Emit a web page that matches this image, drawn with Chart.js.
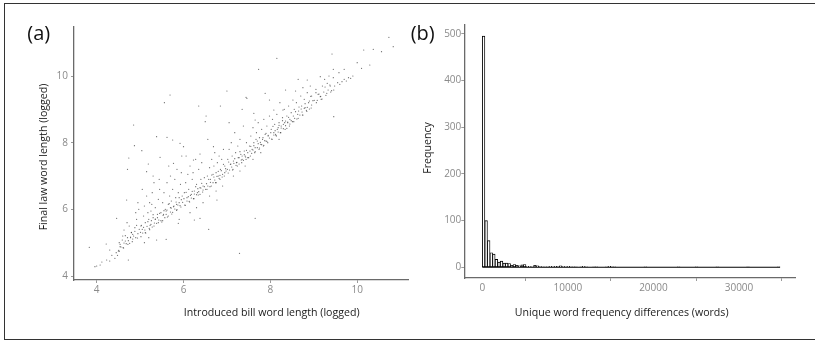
<!DOCTYPE html>
<html><head><meta charset="utf-8">
<script src="https://cdn.jsdelivr.net/npm/chart.js@4.4.1/dist/chart.umd.min.js"></script>
<style>
html,body{margin:0;padding:0;background:#fff;width:815px;height:341px;overflow:hidden;position:relative;font-family:"Open Sans",sans-serif;}
#frame{position:absolute;left:4px;top:3px;width:830px;height:337px;box-sizing:border-box;border:1.5px solid #333;}
canvas{position:absolute;top:0;}
.t{position:absolute;white-space:nowrap;color:#1a1a1a;font-size:10.6px;line-height:11px;transform:translate(-50%,-50%);}
.rot{position:absolute;white-space:nowrap;color:#1a1a1a;font-size:10.6px;line-height:12px;height:12px;width:220px;text-align:center;transform:rotate(-90deg);transform-origin:110px 6px;}
.panel{font-size:20px;line-height:20px;color:#111;}
</style></head><body>
<div id="frame"></div>
<canvas id="ca" width="410" height="341" style="left:0"></canvas>
<canvas id="cb" width="405" height="341" style="left:410px"></canvas>
<div class="t panel" style="left:38.8px;top:32.5px">(a)</div>
<div class="t panel" style="left:422.7px;top:33px">(b)</div>
<div class="rot" style="left:-67px;top:151px">Final law word length (logged)</div>
<div class="t" style="left:271.7px;top:312px">Introduced bill word length (logged)</div>
<div class="rot" style="left:317px;top:142px">Frequency</div>
<div class="t" style="left:621.7px;top:312px">Unique word frequency differences (words)</div>
<script>
// ---- Panel (a): scatter of logged word lengths [introduced bill, final law]
const scatterPoints = [
// lower-left tail
[3.83,4.86],[3.96,4.28],[4.0,4.3],[4.08,4.33],[4.12,4.42],[4.23,4.48],[4.22,4.96],[4.3,4.45],[4.35,4.62],[4.42,4.53],[4.45,4.7],[4.46,5.73],[4.48,4.62],[4.5,4.75],[4.54,4.88],[4.52,5.0],[4.3,4.78],
// main band
[4.51,4.77],[4.54,4.95],[4.56,4.87],[4.59,5.08],[4.61,4.85],[4.63,4.99],[4.66,5.21],[4.68,4.97],[4.71,5.15],[4.73,5.06],[4.76,4.98],[4.78,5.17],[4.8,5.31],[4.83,5.11],[4.85,5.2],[4.88,5.34],[4.9,5.15],[4.92,5.52],[4.95,5.27],[4.98,5.4],
[5.01,5.31],[5.03,5.52],[5.06,5.29],[5.08,5.46],[5.11,5.38],[5.13,5.29],[5.16,5.49],[5.18,5.63],[5.21,5.43],[5.23,5.52],[5.26,5.66],[5.28,5.47],[5.3,5.84],[5.33,5.59],[5.35,5.71],[5.38,5.58],[5.4,5.75],[5.43,5.68],[5.45,5.88],[5.48,5.66],
[5.5,5.62],[5.53,5.82],[5.55,5.96],[5.57,5.75],[5.6,5.85],[5.62,5.98],[5.65,5.8],[5.67,6.17],[5.7,5.92],[5.72,6.04],[5.75,5.91],[5.77,6.08],[5.8,6.01],[5.83,6.22],[5.85,5.99],[5.87,6.13],[5.9,6.35],[5.92,6.11],[5.95,6.29],[5.98,6.21],
[6.01,6.32],[6.03,6.13],[6.06,6.51],[6.08,6.25],[6.11,6.38],[6.13,6.24],[6.16,6.42],[6.18,6.34],[6.2,6.54],[6.23,6.32],[6.25,6.46],[6.28,6.68],[6.3,6.44],[6.33,6.62],[6.35,6.53],[6.38,6.45],[6.4,6.64],[6.42,6.78],[6.45,6.58],[6.48,6.68],
[6.51,6.6],[6.53,6.77],[6.56,6.7],[6.58,6.9],[6.61,6.68],[6.62,6.81],[6.65,7.03],[6.68,6.8],[6.7,6.97],[6.72,6.88],[6.75,6.8],[6.77,6.99],[6.8,7.14],[6.82,6.93],[6.84,7.02],[6.87,7.16],[6.89,6.97],[6.92,7.35],[6.95,7.1],[6.97,7.22],
[7.01,7.2],[7.04,7.42],[7.06,7.18],[7.09,7.36],[7.11,7.27],[7.13,7.18],[7.16,7.38],[7.18,7.52],[7.21,7.32],[7.23,7.41],[7.26,7.55],[7.28,7.36],[7.3,7.73],[7.33,7.48],[7.35,7.6],[7.38,7.47],[7.4,7.64],[7.43,7.57],[7.45,7.77],[7.48,7.55],
[7.5,7.55],[7.53,7.75],[7.55,7.89],[7.57,7.68],[7.6,7.78],[7.62,7.91],[7.65,7.73],[7.67,8.1],[7.7,7.85],[7.72,7.97],[7.75,7.84],[7.77,8.01],[7.8,7.94],[7.83,8.15],[7.85,7.92],[7.87,8.06],[7.9,8.28],[7.92,8.04],[7.95,8.22],[7.98,8.14],
[8.01,8.3],[8.03,8.11],[8.06,8.49],[8.08,8.23],[8.11,8.36],[8.13,8.22],[8.16,8.4],[8.18,8.32],[8.2,8.52],[8.23,8.3],[8.25,8.44],[8.28,8.66],[8.3,8.42],[8.33,8.6],[8.35,8.51],[8.38,8.43],[8.4,8.62],[8.42,8.76],[8.45,8.56],[8.48,8.66],
[8.51,8.63],[8.53,8.8],[8.56,8.73],[8.58,8.93],[8.61,8.71],[8.63,8.85],[8.66,9.07],[8.68,8.83],[8.71,9.01],[8.73,8.92],[8.75,8.83],[8.78,9.03],[8.8,9.17],[8.83,8.97],[8.85,9.06],[8.88,9.2],[8.9,9.01],[8.93,9.39],[8.95,9.13],[8.98,9.26],
[9.01,9.27],[9.05,9.5],[9.08,9.27],[9.12,9.46],[9.16,9.39],[9.19,9.31],[9.23,9.52],[9.26,9.67],[9.3,9.48],[9.33,9.58],[9.37,9.73],[9.41,9.56],[9.45,9.95],
// lower edge of band
[4.52,4.74],[4.62,4.84],[4.72,4.95],[4.82,5.03],[4.94,5.14],[5.02,5.18],[5.12,5.3],[5.22,5.39],[5.32,5.5],[5.42,5.6],
[5.52,5.66],[5.63,5.77],[5.73,5.86],[5.84,5.97],[5.94,6.07],[6.04,6.12],[6.14,6.22],[6.24,6.32],[6.34,6.43],[6.44,6.52],
[6.54,6.6],[6.64,6.7],[6.74,6.8],[6.84,6.9],[6.94,7.0],[7.03,7.09],[7.14,7.2],[7.24,7.3],[7.34,7.4],[7.44,7.5],
[7.54,7.6],[7.64,7.7],[7.74,7.8],[7.84,7.9],[7.94,8.0],[8.04,8.1],[8.14,8.2],[8.24,8.3],[8.34,8.4],[8.44,8.5],
[8.54,8.63],[8.64,8.73],[8.74,8.83],[8.84,8.94],[8.94,9.04],[9.06,9.2],[9.17,9.3],[9.28,9.42],[9.39,9.52],
// cloud above / below the band
[4.6,5.2],[4.63,5.38],[4.69,6.28],[4.71,7.2],[4.74,7.54],[4.73,4.48],[4.75,5.5],[4.8,5.3],[4.85,8.53],[4.87,7.91],[4.7,5.6],[4.9,5.9],[4.95,6.2],[4.78,5.15],[4.88,5.45],[4.92,5.7],[4.97,6.0],[4.66,5.05],[4.83,5.25],
[5.04,7.76],[5.15,7.13],[5.19,7.36],[5.38,8.18],[5.46,7.56],[5.38,5.08],[5.02,5.5],[5.05,6.6],[5.08,5.8],[5.1,6.1],[5.12,5.6],[5.15,6.4],[5.18,5.9],[5.2,5.7],[5.22,6.2],[5.25,5.95],[5.28,6.5],[5.3,5.75],[5.32,6.8],[5.35,6.05],[5.4,5.85],[5.42,6.3],[5.45,6.6],[5.48,5.9],[5.05,5.4],[5.25,5.55],[5.35,5.7],[5.44,6.9],[5.3,7.0],[5.1,5.0],[5.2,5.15],[5.27,6.15],
[5.56,9.2],[5.69,9.43],[5.6,5.1],[5.62,8.16],[5.75,8.08],[5.77,7.38],[5.92,7.98],[5.96,7.6],[5.88,5.58],[5.52,6.2],[5.55,6.5],[5.58,6.0],[5.62,6.8],[5.65,6.15],[5.68,6.4],[5.7,7.0],[5.72,6.25],[5.75,6.6],[5.78,6.1],[5.8,6.9],[5.82,6.35],[5.85,7.2],[5.88,6.5],[5.9,6.2],[5.93,6.75],[5.97,6.4],[5.6,5.95],[5.7,6.05],[5.84,6.15],[5.95,7.1],[5.66,7.3],[5.54,5.85],[5.9,5.7],
[6.0,7.88],[6.23,7.48],[6.38,7.66],[6.35,9.1],[6.25,5.68],[6.38,5.73],[6.02,6.5],[6.05,6.8],[6.08,6.35],[6.1,7.05],[6.12,6.6],[6.15,7.3],[6.18,6.45],[6.2,6.9],[6.22,7.1],[6.25,6.55],[6.28,7.5],[6.3,6.75],[6.32,6.5],[6.35,7.2],[6.38,6.65],[6.4,6.9],[6.42,7.4],[6.45,6.7],[6.48,6.95],[6.15,5.9],[6.3,6.05],[6.45,6.2],[6.06,7.6],
[6.52,8.8],[6.5,8.63],[6.58,5.4],[6.69,7.88],[6.77,6.28],[6.85,9.1],[6.55,7.0],[6.6,7.25],[6.62,6.9],[6.65,7.5],[6.68,7.05],[6.7,7.3],[6.72,7.7],[6.75,7.1],[6.78,7.4],[6.8,7.0],[6.82,7.6],[6.85,7.2],[6.88,7.5],[6.9,7.05],[6.92,7.8],[6.95,7.3],[6.98,7.15],[6.6,6.4],[6.75,6.55],[6.9,6.7],[6.56,8.1],
[7.0,9.55],[7.35,9.0],[7.46,9.33],[7.44,9.36],[7.29,4.68],[7.02,7.5],[7.05,7.8],[7.08,7.35],[7.1,8.0],[7.12,7.6],[7.15,7.45],[7.18,8.3],[7.2,7.7],[7.22,7.4],[7.25,7.9],[7.28,7.55],[7.3,8.1],[7.32,7.65],[7.35,7.5],[7.38,8.5],[7.4,7.75],[7.42,7.6],[7.45,8.0],[7.48,7.7],[7.15,7.0],[7.3,7.15],[7.42,7.3],[7.05,8.6],
[7.62,8.88],[7.65,8.68],[7.65,5.73],[7.73,10.2],[7.88,9.48],[7.98,9.28],[7.52,7.9],[7.55,8.2],[7.58,7.8],[7.6,8.45],[7.62,8.0],[7.65,7.85],[7.68,8.3],[7.7,8.05],[7.72,8.6],[7.75,8.15],[7.78,7.95],[7.8,8.4],[7.82,8.1],[7.85,8.7],[7.88,8.25],[7.9,8.05],[7.92,8.5],[7.95,8.2],[7.98,8.8],[7.6,7.5],[7.78,7.7],
[8.15,10.53],[8.08,8.98],[8.29,8.98],[8.35,9.58],[8.02,8.4],[8.05,8.7],[8.08,8.3],[8.1,8.55],[8.12,8.25],[8.15,8.85],[8.18,8.45],[8.2,8.6],[8.22,9.2],[8.25,8.5],[8.28,8.75],[8.3,8.55],[8.32,9.0],[8.35,8.65],[8.38,8.8],[8.4,8.6],[8.42,9.1],[8.45,8.7],[8.48,8.9],[8.2,8.1],
[8.52,9.28],[8.64,9.9],[8.85,9.88],[8.55,9.0],[8.6,9.2],[8.65,8.95],[8.7,9.4],[8.72,9.1],[8.78,9.3],[8.8,9.05],[8.85,9.5],[8.9,9.25],[8.95,9.4],[8.58,9.55],[8.75,9.65],[8.92,9.7],
[9.15,9.98],[9.15,9.38],[9.31,9.78],[9.38,9.7],[9.42,10.66],[9.45,10.2],[9.46,9.58],[9.46,8.78],[9.48,9.7],[9.05,9.6],[9.2,9.7],[9.25,9.9],[9.35,10.0],[9.1,9.45],
// upper-right tail
[9.55,9.8],[9.6,9.75],[9.65,9.83],[9.7,9.9],[9.75,9.85],[9.8,9.95],[9.85,9.93],[9.9,10.0],[10.0,10.4],[10.1,10.23],[10.15,10.78],[10.29,10.33],[10.37,10.8],[10.56,10.73],[10.73,11.16],[10.83,10.88],[9.58,10.1],[9.7,10.2]
];
const xTicksA = [4, 6, 8, 10];
const yTicksA = [4, 6, 8, 10];

// ---- Panel (b): histogram of unique word frequency differences (bin width 300 words)
const binWidth = 300;
const histBinStart = [0,300,600,900,1200,1500,1800,2100,2400,2700,3000,3300,3600,3900,4200,4500,4800,5100,5400,5700,6000,6300,6600,6900,7200,7500,7800,8100,8400,8700,9000,9300,9600,9900,10200,10500,10800,11400,11700,12000,12900,13200,14400,14700,15000,15300,18900,22800,24900,27300,30900,34500];
const histCount    = [495,100,57,31,28,17,11,13,9,9,8,4,6,4,3,5,6,2,2,1,4,3,2,1,1,1,2,1,2,2,3,2,1,2,1,1,1,1,2,1,1,1,1,2,1,1,1,1,1,1,1,1];
const baselineRange = [0, 34800];
const xTicksB = [0, 10000, 20000, 30000];
const yTicksB = [0, 100, 200, 300, 400, 500];

const tickFont = {family: 'Open Sans', size: 10};
const tickColor = '#8a8a8a';
function axisOpts(extra){
  return Object.assign({
    type: 'linear',
    grid: {display: true, drawOnChartArea: false, drawTicks: true, tickLength: 3, color: '#9a9a9a', tickColor: '#9a9a9a'},
    border: {display: true, color: '#6a6a6a', width: 1.3},
    ticks: {color: tickColor, font: tickFont, maxRotation: 0, autoSkip: false, callback: v => String(v)}
  }, extra);
}
const common = {
  responsive: false, animation: false, events: [],
  plugins: {legend: {display: false}, tooltip: {enabled: false}, title: {display: false}}
};

new Chart(document.getElementById('ca'), {
  type: 'scatter',
  data: {datasets: [{
    data: scatterPoints.map(p => ({x: p[0], y: p[1]})),
    pointRadius: 0.62, pointHoverRadius: 0, borderWidth: 0,
    backgroundColor: 'rgba(55,55,55,0.75)'
  }]},
  options: Object.assign({}, common, {
    layout: {padding: {left: 40, top: 27, right: 2, bottom: 20}},
    scales: {
      x: (() => { const o = axisOpts({min: 3.478, max: 11.17}); o.ticks.padding = 1;
        o.afterBuildTicks = s => { s.ticks = xTicksA.map(v => ({value: v})); };
        o.afterFit = s => { s.height = 41; }; return o; })(),
      y: (() => { const o = axisOpts({min: 3.88, max: 11.47}); o.ticks.padding = 3;
        o.afterBuildTicks = s => { s.ticks = yTicksA.map(v => ({value: v})); };
        o.afterFit = s => { s.width = 34; }; return o; })()
    }
  })
});

new Chart(document.getElementById('cb'), {
  type: 'bar',
  data: {datasets: [
    {
      type: 'bar',
      data: histBinStart.map((s, i) => ({x: s + binWidth / 2, y: histCount[i]})),
      backgroundColor: '#ffffff', borderColor: '#000000', borderWidth: 0.9,
      borderSkipped: false, barPercentage: 1, categoryPercentage: 1, grouped: false
    },
    {
      type: 'line',
      data: baselineRange.map(v => ({x: v, y: 0})),
      borderColor: '#000000', borderWidth: 1.2, pointRadius: 0, fill: false
    }
  ]},
  options: Object.assign({}, common, {
    layout: {padding: {left: 30, top: 25, right: 19.3, bottom: 20}},
    scales: {
      x: (() => { const o = axisOpts({min: -2104, max: 36625, offset: false}); o.ticks.padding = 1;
        o.afterBuildTicks = s => { s.ticks = xTicksB.map(v => ({value: v})); };
        o.afterFit = s => { s.height = 43; }; return o; })(),
      y: (() => { const o = axisOpts({min: -23, max: 519}); o.ticks.padding = 0;
        o.afterBuildTicks = s => { s.ticks = yTicksB.map(v => ({value: v})); };
        o.afterFit = s => { s.width = 24.3; }; return o; })()
    }
  })
});
</script>
</body></html>
